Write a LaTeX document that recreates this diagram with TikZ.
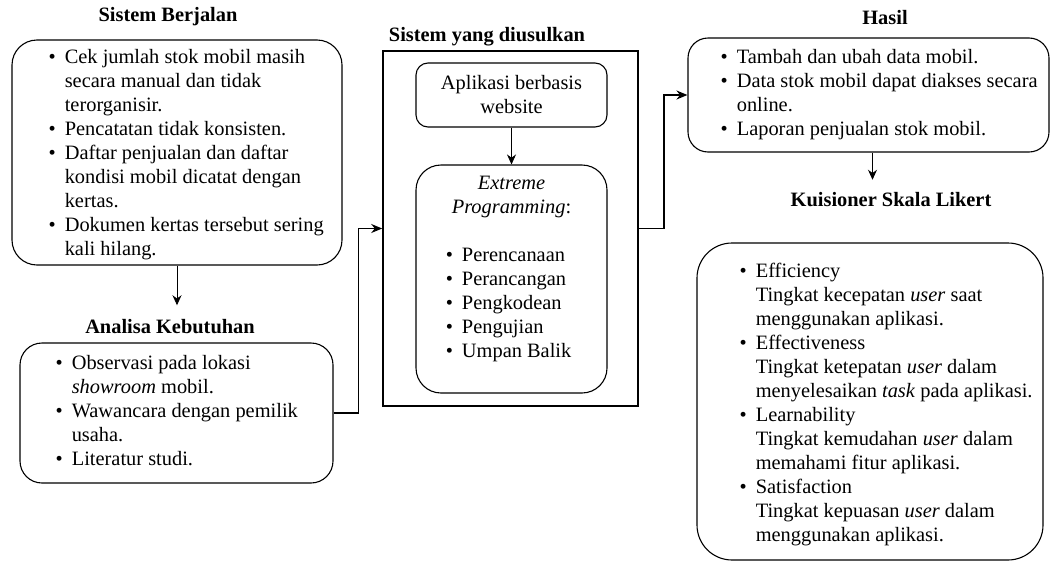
\documentclass[tikz,border=0pt]{standalone}
\usepackage{fontspec}
\setmainfont{Liberation Serif}
\usetikzlibrary{arrows.meta}
\newcommand{\blist}[1]{\begin{tabular}{@{}l@{\hspace{9pt}}l@{}}#1\end{tabular}}
\tikzset{
  roundbox/.style={draw, rounded corners=#1, line width=1.1pt, inner sep=0pt},
  roundbox/.default=22pt,
  outerbox/.style={draw, line width=1.6pt, inner sep=0pt},
  heading/.style={font=\fontsize{20.4}{24}\selectfont\bfseries},
  listtext/.style={inner sep=0pt, anchor=west},
  thinflow/.style={line width=0.9pt, -{Stealth[length=10pt, width=9pt]}},
  thickflow/.style={line width=1.6pt, -{Stealth[length=11pt, width=9pt]}},
}
\begin{document}
\begin{tikzpicture}[x=1pt, y=-1pt, font=\fontsize{20.4}{24}\selectfont]
  \useasboundingbox (0,0) rectangle (1051,565);
  % boxes
  \node[roundbox=25pt, minimum width=330pt, minimum height=225pt] (berjalan) at (177,152.5) {};
  \node[roundbox, minimum width=313pt, minimum height=140pt] (analisa) at (176.5,413) {};
  \node[outerbox, minimum width=255pt, minimum height=355pt] (usulan) at (510.5,228.5) {};
  \node[roundbox=12pt, minimum width=191pt, minimum height=64pt, align=center] (aplikasi) at (511.5,95) {Aplikasi berbasis\\website};
  \node[roundbox=25pt, minimum width=191pt, minimum height=228pt] (xp) at (511.5,279) {};
  \node[roundbox=20pt, minimum width=361pt, minimum height=114pt] (hasil) at (868.5,95) {};
  \node[roundbox=35pt, minimum width=346pt, minimum height=317pt] (likert) at (870,401.5) {};

  % titles
  \node[heading] (tBerjalan) at (168,17) {Sistem Berjalan};
  \node[heading] (tAnalisa) at (170,327) {Analisa Kebutuhan};
  \node[heading] (tUsulan) at (487,37) {Sistem yang diusulkan};
  \node[heading] (tHasil) at (885,18) {Hasil};
  \node[heading] (tLikert) at (891,200) {Kuisioner Skala Likert};

  % lists
  \node[listtext] (berjalanList) at ([xshift=37pt, yshift=-2pt]berjalan.west) {\blist{
    \textbullet & Cek jumlah stok mobil masih\\
    & secara manual dan tidak\\
    & terorganisir.\\
    \textbullet & Pencatatan tidak konsisten.\\
    \textbullet & Daftar penjualan dan daftar\\
    & kondisi mobil dicatat dengan\\
    & kertas.\\
    \textbullet & Dokumen kertas tersebut sering\\
    & kali hilang.}};
  \node[listtext] (analisaList) at ([xshift=36pt]analisa.west) {\blist{
    \textbullet & Observasi pada lokasi\\
    & \textit{showroom} mobil.\\
    \textbullet & Wawancara dengan pemilik\\
    & usaha.\\
    \textbullet & Literatur studi.}};
  \node[inner sep=0pt, anchor=north] (xpList) at ([yshift=-8pt]xp.north) {\blist{
    \multicolumn{2}{c}{\textit{Extreme}}\\
    \multicolumn{2}{c}{\textit{Programming}:}\\
    & \\
    \textbullet & Perencanaan\\
    \textbullet & Perancangan\\
    \textbullet & Pengkodean\\
    \textbullet & Pengujian\\
    \textbullet & Umpan Balik}};
  \node[listtext] (hasilList) at ([xshift=33pt]hasil.west) {\blist{
    \textbullet & Tambah dan ubah data mobil.\\
    \textbullet & Data stok mobil dapat diakses secara\\
    & online.\\
    \textbullet & Laporan penjualan stok mobil.}};
  \node[listtext] (likertList) at ([xshift=43pt, yshift=-3pt]likert.west) {\blist{
    \textbullet & Efficiency\\
    & Tingkat kecepatan \textit{user} saat\\
    & menggunakan aplikasi.\\
    \textbullet & Effectiveness\\
    & Tingkat ketepatan \textit{user} dalam\\
    & menyelesaikan \textit{task} pada aplikasi.\\
    \textbullet & Learnability\\
    & Tingkat kemudahan \textit{user} dalam\\
    & memahami fitur aplikasi.\\
    \textbullet & Satisfaction\\
    & Tingkat kepuasan \textit{user} dalam\\
    & menggunakan aplikasi.}};

  % connectors
  \draw[thinflow, shorten >=11pt] (berjalan.south) -- (berjalan.south |- tAnalisa.north);
  \draw[thickflow] (analisa.east) -- ++(25,0) |- (usulan.west);
  \draw[thinflow] (aplikasi.south) -- (xp.north);
  \draw[thickflow] (usulan.east) -- ++(25,0) |- (hasil.west);
  \draw[thinflow, shorten >=9.5pt] ([xshift=4pt]hasil.south) -- ([xshift=4pt]hasil.south |- tLikert.north);
\end{tikzpicture}
\end{document}
